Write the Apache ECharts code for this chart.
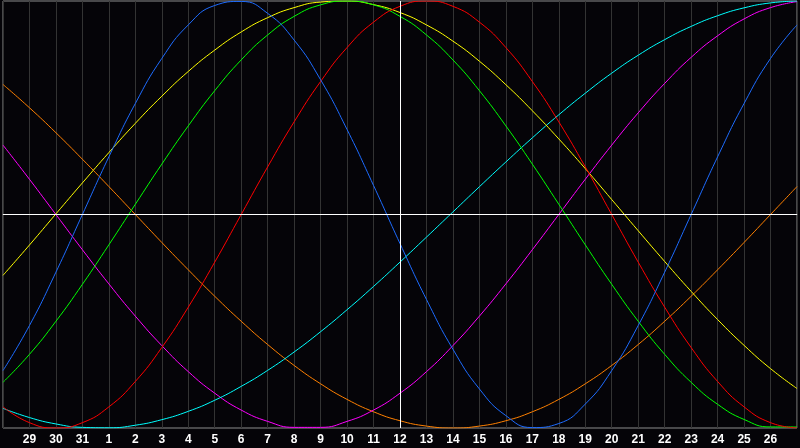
<!DOCTYPE html>
<html>
<head>
<meta charset="utf-8">
<script src="https://cdn.jsdelivr.net/npm/echarts@6/dist/echarts.min.js"></script>
<style>
html,body{margin:0;padding:0;background:#050408;}
#chart{width:800px;height:448px;}
</style>
</head>
<body>
<div id="chart"></div>
<script>
// Day labels (first and last gridline unlabeled)
var dayLabels = ['', '29','30','31','1','2','3','4','5','6','7','8','9','10','11','12','13','14','15','16','17','18','19','20','21','22','23','24','25','26',''];

// Curve values (percent, -100..100) read at each day gridline
var physical = [-73.1,-52.0,-27.0,0,27.0,52.0,73.1,88.8,97.9,99.8,94.2,81.7,63.1,39.8,13.6,-13.6,-39.8,-63.1,-81.7,-94.2,-99.8,-97.9,-88.8,-73.1,-52.0,-27.0,0,27.0,52.0,73.1,88.8];
var emotional = [-90.1,-97.5,-100,-97.5,-90.1,-78.2,-62.3,-43.4,-22.3,0,22.3,43.4,62.3,78.2,90.1,97.5,100,97.5,90.1,78.2,62.3,43.4,22.3,0,-22.3,-43.4,-62.3,-78.2,-90.1,-97.5,-100];
var intellectual = [-78.6,-65.5,-50.0,-32.7,-14.2,4.8,23.6,41.5,58.0,72.4,84.1,92.8,98.2,100,98.2,92.8,84.1,72.4,58.0,41.5,23.6,4.8,-14.2,-32.7,-50.0,-65.5,-78.6,-88.9,-96.0,-99.5,-99.5];
var aesthetic = [-28.5,-14.3,0.3,14.8,29.0,42.7,55.4,67.0,77.0,85.5,92.2,96.9,99.5,100,98.3,94.6,88.8,81.2,71.8,60.8,48.6,35.4,21.5,7.0,-7.6,-22.0,-36.0,-49.2,-61.3,-72.2,-81.5];
var intuitive = [32.5,16.5,0,-16.5,-32.5,-47.6,-61.4,-73.6,-83.7,-91.6,-96.9,-99.7,-99.7,-96.9,-91.6,-83.7,-73.6,-61.4,-47.6,-32.5,-16.5,0,16.5,32.5,47.6,61.4,73.6,83.7,91.6,96.9,99.7];
var spiritual = [-90.8,-95.1,-98.1,-99.7,-99.9,-98.7,-96.1,-92.2,-87.0,-80.5,-73.0,-64.4,-54.9,-44.6,-33.7,-22.3,-10.6,1.2,13.0,24.6,35.9,46.7,56.8,66.2,74.6,81.9,88.1,93.1,96.8,99.1,100];
var awareness = [60.9,50.0,38.3,25.9,13.1,0,-13.1,-25.9,-38.3,-50.0,-60.9,-70.7,-79.3,-86.6,-92.4,-96.6,-99.1,-100,-99.1,-96.6,-92.4,-86.6,-79.3,-70.7,-60.9,-50.0,-38.3,-25.9,-13.1,0,13.1];

var seriesDefs = [
  {name:'awareness', data:awareness, color:'#ff8000'},
  {name:'intuitive', data:intuitive, color:'#ff00ff'},
  {name:'spiritual', data:spiritual, color:'#00ffff'},
  {name:'aesthetic', data:aesthetic, color:'#ffff00'},
  {name:'intellectual', data:intellectual, color:'#00ff00'},
  {name:'emotional', data:emotional, color:'#ff0000'},
  {name:'physical', data:physical, color:'#1e6cff'}
];

var series = seriesDefs.map(function(s){
  return {
    name: s.name, type:'line', data:s.data, smooth:true, showSymbol:false,
    lineStyle:{color:s.color, width:1}, itemStyle:{color:s.color},
    silent:true, animation:false, z:3
  };
});
series.push({
  type:'line', data:[], silent:true, animation:false,
  markLine:{
    silent:true, symbol:'none', label:{show:false},
    lineStyle:{color:'#ffffff', width:1, type:'solid'},
    data:[{xAxis:15},{yAxis:0}]
  }
});

var chart = echarts.init(document.getElementById('chart'), null, {renderer:'canvas'});
chart.setOption({
  backgroundColor:'#050408',
  animation:false,
  grid:{left:0, right:0, top:1, bottom:20, show:true, borderColor:'#8c8c8c', borderWidth:1, backgroundColor:'#050408', containLabel:false},
  xAxis:{
    type:'category', data:dayLabels, boundaryGap:false,
    axisLine:{show:true, lineStyle:{color:'#8c8c8c'}},
    axisTick:{show:false},
    axisLabel:{interval:0, color:'#ffffff', fontFamily:'Liberation Sans', fontWeight:'bold', fontSize:12, margin:6},
    splitLine:{show:true, interval:0, lineStyle:{color:'#333333', width:1}}
  },
  yAxis:{
    type:'value', min:-100, max:100, show:false,
    splitLine:{show:false}
  },
  series:series
});
</script>
</body>
</html>
